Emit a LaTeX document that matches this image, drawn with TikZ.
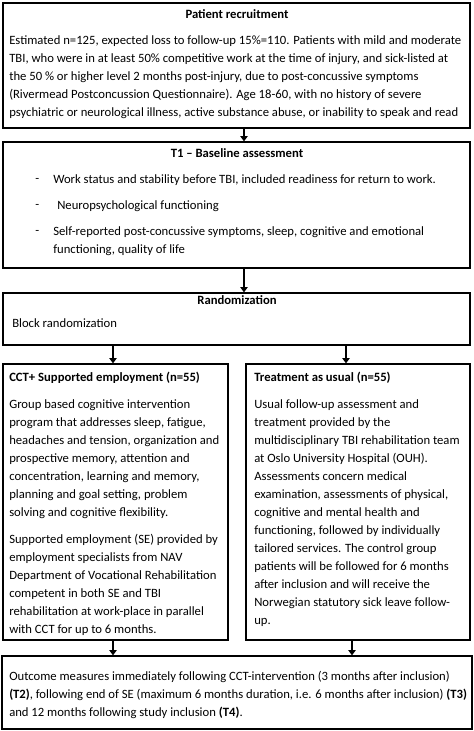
\documentclass[tikz,border=0pt]{standalone}
\usepackage{fontspec}
\setmainfont{Carlito}
\usetikzlibrary{positioning,fit,arrows.meta}
\newcommand{\flowfont}{\fontsize{9.5pt}{13.5pt}\selectfont}

\begin{document}
\begin{tikzpicture}[x=0.75pt, y=-0.75pt,
  box/.style={draw, line width=0.9pt, inner sep=0pt},
  title/.style={font=\flowfont\bfseries, inner sep=0pt},
  body/.style={anchor=north west, align=left, inner sep=0pt, font=\flowfont},
  flow/.style={line width=1.7pt, -{Triangle[length=4pt, width=5.5pt]}}]

\useasboundingbox (0,0) rectangle (474,731);

% ================= BOXES =================
\node[box, fit={(3,3) (470,128)}] (recruit) {};
\node[box, fit={(3,142) (470,268)}] (baseline) {};
\node[box, fit={(3,293) (470,345)}] (random) {};
\node[box, fit={(3,364) (228,640)}] (cct) {};
\node[box, fit={(246,364) (470,640)}] (tau) {};
\node[box, fit={(2,656) (472,729)}] (outcome) {};

% arrow columns
\coordinate (colM) at (244,0);
\coordinate (colL) at (113,0);
\coordinate (colR) at (346,0);
\coordinate (colRb) at (352,0);

% ================= PATIENT RECRUITMENT =================
\node[title] (recruitTitle) at (237,14) {Patient recruitment};
\node[body] (recruitText) at (9,35.5)
{Estimated n=125, expected loss to follow-up 15\%=110. Patients with mild and moderate\\
TBI, who were in at least 50\% competitive work at the time of injury, and sick-listed at\\
the 50 \% or higher level 2 months post-injury, due to post-concussive symptoms\\
(Rivermead Postconcussion Questionnaire). Age 18-60, with no history of severe\\
psychiatric or neurological illness, active substance abuse, or inability to speak and read};

% ================= T1 BASELINE =================
\node[title] (baselineTitle) at (237,153) {T1 -- Baseline assessment};
\foreach \y in {181,207,233}
  \node[body] (dash\y) at (35,\y-6.5) {\vphantom{W}-};
\node[body] (workText) at (53,174.5)
{Work status and stability before TBI, included readiness for return to work.};
\node[body] (neuroText) at (57,200.5) {Neuropsychological functioning};
\node[body] (selfText) at (53,226.5)
{Self-reported post-concussive symptoms, sleep, cognitive and emotional\\
functioning, quality of life};

% ================= RANDOMIZATION =================
\node[title] (randomTitle) at (237,300) {Randomization};
\node[body] (randomText) at (12,318.5) {Block randomization};

% ================= CCT + SE =================
\node[body, font=\flowfont\bfseries] (cctTitle) at (9,371.5)
{CCT+ Supported employment (n=55)};
\node[body] (cctText) at (9,399.5)
{Group based cognitive intervention\\
program that addresses sleep, fatigue,\\
headaches and tension, organization and\\
prospective memory, attention and\\
concentration, learning and memory,\\
planning and goal setting, problem\\
solving and cognitive flexibility.\\[7pt]
Supported employment (SE) provided by\\
employment specialists from NAV\\
Department of Vocational Rehabilitation\\
competent in both SE and TBI\\
rehabilitation at work-place in parallel\\
with CCT for up to 6 months.};

% ================= TREATMENT AS USUAL =================
\node[body, font=\flowfont\bfseries] (tauTitle) at (254,371.5)
{Treatment as usual (n=55)};
\node[body] (tauText) at (254,399.5)
{Usual follow-up assessment and\\
treatment provided by the\\
multidisciplinary TBI rehabilitation team\\
at Oslo University Hospital (OUH).\\
Assessments concern medical\\
examination, assessments of physical,\\
cognitive and mental health and\\
functioning, followed by individually\\
tailored services. The control group\\
patients will be followed for 6 months\\
after inclusion and will receive the\\
Norwegian statutory sick leave follow-\\
up.};

% ================= OUTCOME =================
\node[body] (outcomeText) at (9,671)
{Outcome measures immediately following CCT-intervention (3 months after inclusion)\\
\textbf{(T2)}, following end of SE (maximum 6 months duration, i.e. 6 months after inclusion) \textbf{(T3)}\\
and 12 months following study inclusion \textbf{(T4)}.};

% ================= ARROWS =================
\draw[flow] (recruit.south -| colM) -- (baseline.north -| colM);
\draw[flow] (baseline.south -| colM) -- (random.north -| colM);
\draw[flow] (random.south -| colL) -- (cct.north -| colL);
\draw[flow] (random.south -| colR) -- (tau.north -| colR);
\draw[flow] (cct.south -| colL) -- (outcome.north -| colL);
\draw[flow] (tau.south -| colRb) -- (outcome.north -| colRb);

\end{tikzpicture}
\end{document}
